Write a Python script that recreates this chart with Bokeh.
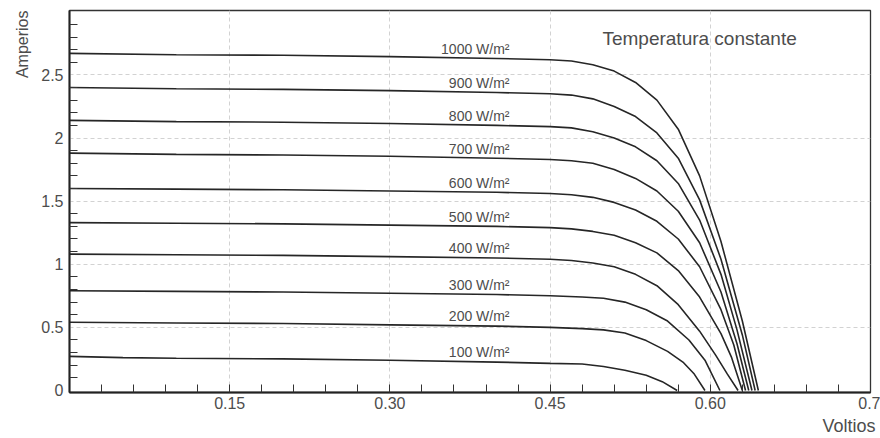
import numpy as np
from bokeh.plotting import figure
from bokeh.models import FixedTicker, Label, Range1d, Title
from bokeh.core.properties import value
from bokeh.embed import file_html
from bokeh.resources import INLINE

# ---- data ----
series_names = ["1000 W/m²", "900 W/m²", "800 W/m²", "700 W/m²", "600 W/m²",
                "500 W/m²", "400 W/m²", "300 W/m²", "200 W/m²", "100 W/m²"]

v_1000 = [0, 0.1, 0.2, 0.3, 0.4, 0.45, 0.47, 0.49, 0.51, 0.53, 0.55, 0.57, 0.59, 0.61, 0.63, 0.645]
i_1000 = [2.67, 2.66, 2.655, 2.645, 2.63, 2.62, 2.61, 2.58, 2.53, 2.44, 2.30, 2.07, 1.70, 1.18, 0.55, 0.0]
v_900 = [0, 0.1, 0.2, 0.3, 0.4, 0.45, 0.47, 0.49, 0.51, 0.53, 0.55, 0.57, 0.59, 0.61, 0.63, 0.642]
i_900 = [2.40, 2.39, 2.385, 2.375, 2.36, 2.35, 2.34, 2.31, 2.25, 2.17, 2.04, 1.84, 1.51, 1.04, 0.44, 0.0]
v_800 = [0, 0.1, 0.2, 0.3, 0.4, 0.45, 0.47, 0.49, 0.51, 0.53, 0.55, 0.57, 0.59, 0.61, 0.625, 0.639]
i_800 = [2.14, 2.13, 2.125, 2.115, 2.10, 2.09, 2.08, 2.05, 2.00, 1.93, 1.82, 1.64, 1.35, 0.92, 0.48, 0.0]
v_700 = [0, 0.1, 0.2, 0.3, 0.4, 0.45, 0.47, 0.49, 0.51, 0.53, 0.55, 0.57, 0.59, 0.61, 0.625, 0.636]
i_700 = [1.88, 1.87, 1.865, 1.855, 1.84, 1.83, 1.82, 1.80, 1.75, 1.68, 1.58, 1.42, 1.17, 0.78, 0.37, 0.0]
v_600 = [0, 0.1, 0.2, 0.3, 0.4, 0.45, 0.47, 0.49, 0.51, 0.53, 0.55, 0.57, 0.59, 0.61, 0.622, 0.633]
i_600 = [1.60, 1.595, 1.59, 1.58, 1.57, 1.56, 1.55, 1.53, 1.49, 1.43, 1.34, 1.20, 0.98, 0.64, 0.36, 0.0]
v_500 = [0, 0.1, 0.2, 0.3, 0.4, 0.45, 0.47, 0.49, 0.51, 0.53, 0.55, 0.57, 0.59, 0.61, 0.620, 0.630]
i_500 = [1.33, 1.325, 1.32, 1.31, 1.30, 1.29, 1.28, 1.26, 1.23, 1.17, 1.09, 0.95, 0.74, 0.45, 0.26, 0.0]
v_400 = [0, 0.1, 0.2, 0.3, 0.4, 0.45, 0.47, 0.49, 0.51, 0.53, 0.55, 0.57, 0.59, 0.605, 0.616, 0.626]
i_400 = [1.08, 1.075, 1.07, 1.06, 1.05, 1.04, 1.03, 1.01, 0.98, 0.92, 0.83, 0.68, 0.47, 0.28, 0.13, 0.0]
v_300 = [0, 0.1, 0.2, 0.3, 0.4, 0.45, 0.48, 0.50, 0.52, 0.54, 0.56, 0.58, 0.595, 0.609]
i_300 = [0.79, 0.785, 0.78, 0.77, 0.76, 0.75, 0.74, 0.73, 0.70, 0.64, 0.55, 0.40, 0.24, 0.0]
v_200 = [0, 0.1, 0.2, 0.3, 0.4, 0.45, 0.48, 0.50, 0.52, 0.54, 0.56, 0.575, 0.585, 0.595]
i_200 = [0.54, 0.535, 0.53, 0.52, 0.51, 0.50, 0.49, 0.48, 0.455, 0.395, 0.31, 0.22, 0.13, 0.0]
v_100 = [0, 0.05, 0.1, 0.2, 0.3, 0.4, 0.45, 0.48, 0.50, 0.52, 0.54, 0.555, 0.569]
i_100 = [0.27, 0.26, 0.255, 0.25, 0.24, 0.225, 0.215, 0.21, 0.19, 0.16, 0.12, 0.07, 0.0]

x_tick_vals = [0.15, 0.30, 0.45, 0.60, 0.75]
x_tick_labels = ["0.15", "0.30", "0.45", "0.60", "0.7"]
x_minor_vals = [0.03, 0.06, 0.09, 0.12, 0.18, 0.21, 0.24, 0.27, 0.33, 0.36, 0.39, 0.42,
                0.48, 0.51, 0.54, 0.57, 0.63, 0.66, 0.69, 0.72]
y_tick_vals = [0, 0.5, 1.0, 1.5, 2.0, 2.5]
y_tick_labels = ["0", "0.5", "1", "1.5", "2", "2.5"]
y_minor_vals = [0.1, 0.2, 0.3, 0.4, 0.6, 0.7, 0.8, 0.9, 1.1, 1.2, 1.3, 1.4, 1.6, 1.7, 1.8, 1.9,
                2.1, 2.2, 2.3, 2.4, 2.6, 2.7, 2.8, 2.9]

x_title = "Voltios"
y_title = "Amperios"
note_text = "Temperatura constante"
label_v = 0.412

# ---- figure ----
FONT = "Liberation Sans"
TXT = "#4d4d4d"

p = figure(width=880, height=438, output_backend="svg", toolbar_location=None,
           x_range=Range1d(0, 0.75), y_range=Range1d(-0.016, 3.01),
           min_border_left=69, min_border_right=10, min_border_top=10, min_border_bottom=46)
p.background_fill_color = "white"
p.border_fill_color = "white"
p.outline_line_color = "#333333"
p.outline_line_width = 1.3

vs = [v_1000, v_900, v_800, v_700, v_600, v_500, v_400, v_300, v_200, v_100]
cs = [i_1000, i_900, i_800, i_700, i_600, i_500, i_400, i_300, i_200, i_100]
p.multi_line(xs=vs, ys=cs, line_color="#262626", line_width=1.6)

lab_y = [float(np.interp(label_v, v, c)) for v, c in zip(vs, cs)]
p.text(x=[label_v] * len(series_names), y=lab_y, text=series_names,
       text_font=value(FONT), text_font_size="14px", text_color=TXT,
       text_align="right", text_baseline="bottom", y_offset=-2)

# axes
for ax in (p.xaxis[0], p.yaxis[0]):
    ax.axis_line_color = "#222222"
    ax.axis_line_width = 2
    ax.major_tick_line_color = "#333333"
    ax.minor_tick_line_color = "#333333"
    ax.major_tick_out = 0
    ax.minor_tick_out = 0
    ax.minor_tick_in = 8
    ax.major_label_text_font = FONT
    ax.major_label_text_font_size = "16px"
    ax.major_label_text_color = TXT

p.xaxis.ticker = FixedTicker(ticks=x_tick_vals, minor_ticks=x_minor_vals)
p.xaxis.major_label_overrides = dict(zip(x_tick_vals, x_tick_labels))
p.xaxis.major_tick_in = 8
p.xaxis.major_label_standoff = 4

p.yaxis.ticker = FixedTicker(ticks=y_tick_vals, minor_ticks=y_minor_vals)
p.yaxis.major_label_overrides = dict(zip(y_tick_vals, y_tick_labels))
p.yaxis.major_tick_in = 0
p.yaxis.major_label_standoff = 6

# grid
p.xgrid.ticker = FixedTicker(ticks=x_tick_vals[:-1])
p.ygrid.ticker = FixedTicker(ticks=y_tick_vals[1:])
for g in (p.xgrid[0], p.ygrid[0]):
    g.grid_line_color = "#d2d2d2"
    g.grid_line_dash = "4 3"
    g.grid_line_width = 1

# titles / notes
p.add_layout(Label(x=0.499, y=2.79, text=note_text, text_font=FONT, text_font_size="19px",
                   text_color=TXT, text_align="left", text_baseline="alphabetic"))
p.add_layout(Title(text=x_title, align="right", text_font=FONT, text_font_size="18px",
                   text_color=TXT, text_font_style="normal", offset=-5, standoff=4), "below")
p.add_layout(Title(text=y_title, align="right", text_font=FONT, text_font_size="16px",
                   text_color=TXT, text_font_style="normal", standoff=16), "left")

open("out.html", "w").write(file_html(p, INLINE))
